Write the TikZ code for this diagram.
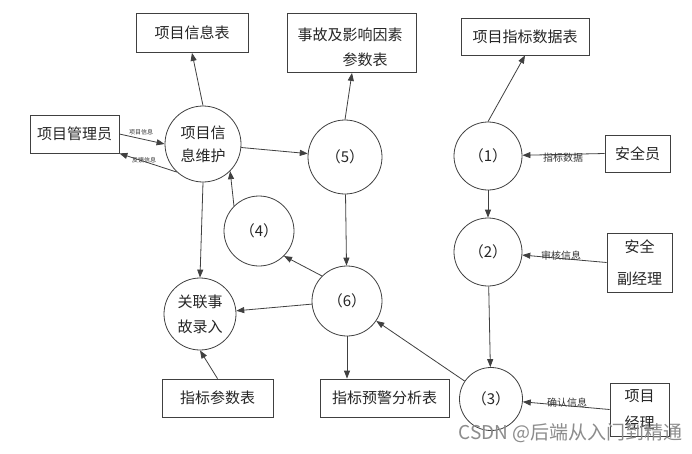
\documentclass[tikz,border=0pt]{standalone}
\usepackage{fontspec}
\setmainfont{Noto Sans CJK SC}
\usetikzlibrary{arrows.meta}
\begin{document}
\begin{tikzpicture}[x=1pt,y=-1pt,
  box/.style={draw=black!75,line width=0.8pt,inner sep=0pt,font=\fontsize{15}{19}\selectfont,text=black!85},
  proc/.style={draw=black!75,line width=0.8pt,circle,inner sep=0pt,font=\fontsize{15}{21}\selectfont,text=black!85,align=center},
  arr/.style={draw=black!75,line width=0.8pt,-{Triangle[length=8pt,width=6pt]}},
  lbl/.style={font=\fontsize{10}{12}\selectfont,text=black!80,inner sep=0pt},
  tinylbl/.style={font=\fontsize{6}{7}\selectfont,text=black!80,inner sep=0pt}]
\fill[white] (0,0) rectangle (692,453);
\useasboundingbox (0,0) rectangle (692,453);
% processes
\node[proc,minimum size=76pt,font=\fontsize{15}{23}\selectfont] (pm) at (203,144) {项目信\\息维护};
\node[proc,minimum size=74pt] (c5) at (345,157) {（5）};
\node[proc,minimum size=68pt] (c1) at (488,156) {（1）};
\node[proc,minimum size=68pt] (c2) at (488,252) {（2）};
\node[proc,minimum size=70pt] (c4) at (259,231) {（4）};
\node[proc,minimum size=70pt] (c6) at (347,301) {（6）};
\node[proc,minimum size=72pt,font=\fontsize{15}{25}\selectfont] (gl) at (200,314) {关联事\\故录入};
\node[proc,minimum size=63pt] (c3) at (491,399) {（3）};
% boxes
\node[box,minimum width=112pt,minimum height=39pt] (xxb) at (192,33) {项目信息表};
\node[box,minimum width=129pt,minimum height=59pt] (sgbbox) at (352,43) {};
\node[font=\fontsize{15}{25}\selectfont,text=black!85,align=left,inner sep=0pt] (sgb) at (350,47.5) {事故及影响因素\\\hspace*{3em}参数表};
\node[box,minimum width=128pt,minimum height=37pt] (zbsj) at (525,36.5) {项目指标数据表};
\node[box,minimum width=89pt,minimum height=38pt] (gly) at (74.5,134) {项目管理员};
\node[box,minimum width=65pt,minimum height=37pt] (aqy) at (637.5,153.5) {安全员};
\node[box,minimum width=65pt,minimum height=59pt,align=center,font=\fontsize{15}{32}\selectfont] (fjl) at (639.5,262.5) {安全\\副经理};
\node[box,minimum width=111pt,minimum height=38pt] (zbcs) at (217.5,398) {指标参数表};
\node[box,minimum width=129pt,minimum height=38pt] (yj) at (384.5,398) {指标预警分析表};
\node[box,minimum width=59pt,minimum height=53pt,align=center,font=\fontsize{15}{27}\selectfont] (xmjl) at (639.5,409.5) {项目\\经理};
% connectors
\draw[arr] (pm.north) -- (xxb.south);
\draw[arr] (c5.north) -- (sgbbox.south);
\draw[arr] (c1.north) -- (zbsj.south);
\draw[arr] (aqy.west) -- (c1);
\draw[arr] (fjl.west) -- (c2);
\draw[arr] (xmjl.west) -- (c3);
\draw[arr] (c1) -- (c2);
\draw[arr] (c2) -- (c3);
\draw[arr] (c3) -- (c6);
\draw[arr] (c5) -- (c6);
\draw[arr] (c6.135) -- (c4.-45);
\draw[arr] (c6) -- (gl);
\draw[arr] (c6.south) -- (c6.south |- yj.north);
\draw[arr] (zbcs.north) -- (gl.south);
\draw[arr] (pm.south) -- (gl.north);
\draw[arr] (c4.135) -- (pm.-45);
\draw[arr] (pm) -- (c5);
\draw[arr] (gly.east) -- (pm.west);
\draw[arr] (pm.227) -- (gly.south east);
% labels
\node[lbl] (l1) at (563,158) {指标数据};
\node[lbl] (l2) at (561,256) {审核信息};
\node[lbl] (l3) at (567,403) {确认信息};
\node[tinylbl] (l4) at (141,132) {项目信息};
\node[tinylbl] (l5) at (144,160) {反馈信息};
% watermark
\node[anchor=east,font=\fontsize{19}{22}\selectfont,text=black!45,inner sep=0pt] (wm) at (683,433) {CSDN @后端从入门到精通};
\end{tikzpicture}
\end{document}
